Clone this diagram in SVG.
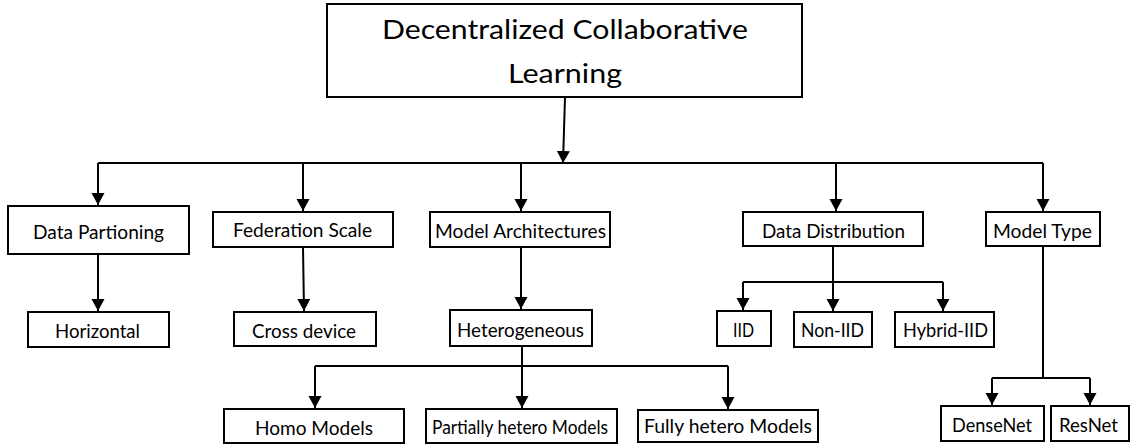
<svg xmlns="http://www.w3.org/2000/svg" width="1132" height="446" viewBox="0 0 1132 446">
<style>
.box{fill:#fff;stroke:#000;stroke-width:2}
.t{font-family:Lato,"Open Sans","Liberation Sans",sans-serif;font-size:19.5px;fill:#000;text-anchor:middle}
.title{font-family:Lato,"Open Sans","Liberation Sans",sans-serif;font-size:27.5px;fill:#000;text-anchor:middle}
.c{fill:none;stroke:#000;stroke-width:2}
.a{fill:none;stroke:#000;stroke-width:2;marker-end:url(#arr)}
</style>
<defs>
<marker id="arr" markerUnits="userSpaceOnUse" markerWidth="14" markerHeight="14" refX="12" refY="6.5" orient="auto">
<path d="M0,0 L12,6.5 L0,13 z" fill="#000"/>
</marker>
</defs>
<rect width="1132" height="446" fill="#fff"/>
<g id="connectors">
<line class="a" x1="565" y1="97" x2="563" y2="163"/>
<line class="c" x1="98" y1="163" x2="1043" y2="163"/>
<line class="a" x1="98" y1="163" x2="98" y2="205"/>
<line class="a" x1="303" y1="163" x2="303" y2="211"/>
<line class="a" x1="521" y1="163" x2="521" y2="211"/>
<line class="a" x1="836" y1="163" x2="836" y2="211"/>
<line class="a" x1="1043" y1="163" x2="1043" y2="211"/>
<line class="a" x1="98" y1="254" x2="98" y2="311"/>
<line class="a" x1="303" y1="247" x2="304" y2="311"/>
<line class="a" x1="521" y1="247" x2="521" y2="309"/>
<line class="a" x1="833" y1="246" x2="833" y2="311"/>
<polyline class="a" points="743,282 743,310"/>
<line class="c" x1="743" y1="282" x2="943" y2="282"/>
<polyline class="a" points="943,282 943,311"/>
<line class="a" x1="522" y1="346" x2="522" y2="408"/>
<line class="c" x1="315" y1="366" x2="728" y2="366"/>
<polyline class="a" points="315,366 315,408"/>
<polyline class="a" points="728,366 728,409"/>
<line class="c" x1="1043" y1="246" x2="1043" y2="378"/>
<line class="c" x1="992" y1="378" x2="1090" y2="378"/>
<polyline class="a" points="992,378 992,405"/>
<polyline class="a" points="1090,378 1090,405"/>
</g>
<g id="root">
<rect class="box" x="327" y="4" width="475" height="93"/>
<text class="title" x="565" y="39" textLength="366" lengthAdjust="spacingAndGlyphs">Decentralized  Collaborative</text>
<text class="title" x="565" y="83" textLength="114" lengthAdjust="spacingAndGlyphs">Learning</text>
</g>
<g id="data-partioning">
<rect class="box" x="8" y="206" width="181" height="48"/>
<text class="t" x="98.5" y="239" textLength="131" lengthAdjust="spacingAndGlyphs">Data Partioning</text>
</g>
<g id="federation-scale">
<rect class="box" x="213" y="212" width="180" height="35"/>
<text class="t" x="302.5" y="237" textLength="139" lengthAdjust="spacingAndGlyphs">Federation Scale</text>
</g>
<g id="model-architectures">
<rect class="box" x="430" y="212" width="180" height="35"/>
<text class="t" x="520.5" y="238" textLength="171" lengthAdjust="spacingAndGlyphs">Model Architectures</text>
</g>
<g id="data-distribution">
<rect class="box" x="743" y="212" width="180" height="34"/>
<text class="t" x="833.5" y="238" textLength="143" lengthAdjust="spacingAndGlyphs">Data Distribution</text>
</g>
<g id="model-type">
<rect class="box" x="986" y="212" width="114" height="34"/>
<text class="t" x="1042.5" y="238" textLength="99" lengthAdjust="spacingAndGlyphs">Model Type</text>
</g>
<g id="horizontal">
<rect class="box" x="28" y="312" width="141" height="35"/>
<text class="t" x="97.5" y="338" textLength="85" lengthAdjust="spacingAndGlyphs">Horizontal</text>
</g>
<g id="cross-device">
<rect class="box" x="234" y="312" width="142" height="34"/>
<text class="t" x="304" y="338" textLength="104" lengthAdjust="spacingAndGlyphs">Cross device</text>
</g>
<g id="heterogeneous">
<rect class="box" x="450" y="310" width="142" height="36"/>
<text class="t" x="520.5" y="337" textLength="127" lengthAdjust="spacingAndGlyphs">Heterogeneous</text>
</g>
<g id="iid">
<rect class="box" x="717" y="311" width="54" height="35"/>
<text class="t" x="743.5" y="337" textLength="21" lengthAdjust="spacingAndGlyphs">IID</text>
</g>
<g id="non-iid">
<rect class="box" x="794" y="312" width="78" height="35"/>
<text class="t" x="832.5" y="337" textLength="63" lengthAdjust="spacingAndGlyphs">Non-IID</text>
</g>
<g id="hybrid-iid">
<rect class="box" x="895" y="312" width="99" height="35"/>
<text class="t" x="945.5" y="337" textLength="85" lengthAdjust="spacingAndGlyphs">Hybrid-IID</text>
</g>
<g id="homo-models">
<rect class="box" x="224" y="409" width="180" height="34"/>
<text class="t" x="314" y="435" textLength="118" lengthAdjust="spacingAndGlyphs">Homo Models</text>
</g>
<g id="partially-hetero-models">
<rect class="box" x="426" y="409" width="191" height="34"/>
<text class="t" x="520" y="434" textLength="176" lengthAdjust="spacingAndGlyphs">Partially hetero Models</text>
</g>
<g id="fully-hetero-models">
<rect class="box" x="638" y="410" width="180" height="32"/>
<text class="t" x="728" y="433" textLength="168" lengthAdjust="spacingAndGlyphs">Fully hetero Models</text>
</g>
<g id="densenet">
<rect class="box" x="941" y="406" width="103" height="35"/>
<text class="t" x="992" y="432" textLength="80" lengthAdjust="spacingAndGlyphs">DenseNet</text>
</g>
<g id="resnet">
<rect class="box" x="1051" y="406" width="78" height="35"/>
<text class="t" x="1088.5" y="432" textLength="59" lengthAdjust="spacingAndGlyphs">ResNet</text>
</g>
</svg>
